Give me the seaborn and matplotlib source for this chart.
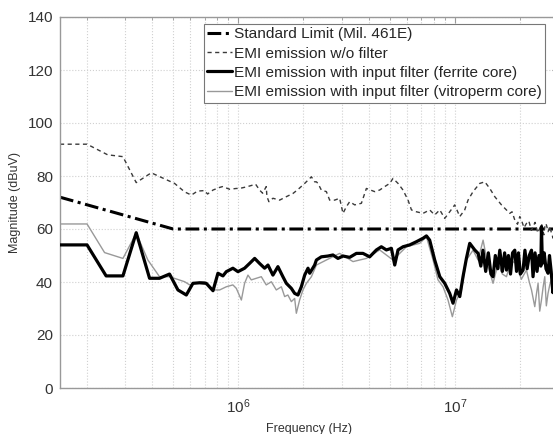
import matplotlib
matplotlib.use("Agg")
import matplotlib.pyplot as plt
import numpy as np
import seaborn as sns
import pandas as pd

# frequencies in MHz, magnitudes in dBuV
limit_f = [0.15, 0.5, 30]
limit_v = [72, 60, 60]

nofilt_f = [0.15, 0.20, 0.249, 0.293, 0.3375, 0.396, 0.5075, 0.565, 0.607, 0.648,
            0.698, 0.721, 0.764, 0.82, 0.846, 0.912, 0.979, 1.014, 1.104, 1.202,
            1.254, 1.295, 1.346, 1.356, 1.385, 1.445, 1.552, 1.667, 1.788, 1.886,
            2.026, 2.176, 2.253, 2.295, 2.334, 2.419, 2.552, 2.643, 2.788, 2.939,
            3.045, 3.157, 3.27, 3.45, 3.704, 3.906, 4.268, 4.498, 4.747, 5.006,
            5.185, 5.47, 5.768, 6.084, 6.31, 6.65, 7.136, 7.66, 8.08, 8.53,
            8.99, 9.48, 10.0, 10.55, 11.12, 11.52, 12.15, 13.05, 13.77, 14.52,
            15.31, 16.44, 17.96, 18.4, 18.94, 19.5, 19.98, 20.3, 20.9, 21.45,
            22.0, 22.6, 23.01, 23.5, 24.2, 24.72, 25.2, 25.8, 26.2, 26.53,
            27.0, 27.5, 27.99, 28.5, 29.2, 30]
nofilt_v = [92, 92, 88, 87.3, 77.5, 81.2, 77.2, 74, 72.8, 74.3,
            74.5, 73.2, 74.7, 75.7, 76, 75, 75.3, 75.3, 76, 76.9,
            74.7, 73.5, 76, 72.2, 70.3, 71.6, 70.9, 72.2, 73.4, 74.9,
            77.2, 79.7, 77.8, 77.8, 77.2, 74.7, 74.1, 70.9, 70.9, 71.6,
            65.9, 68.4, 70.3, 69.1, 69.7, 75.3, 74.1, 74.7, 76, 77.2,
            79.1, 77.2, 74.7, 70.9, 67.2, 66.5, 65.9, 67.2, 65.3, 67.2,
            64, 66.5, 69.1, 64.7, 67.2, 70.9, 74.1, 77.2, 77.8, 75.3,
            72.2, 69.1, 65.9, 66.5, 63.4, 61.8, 64.7, 63.5, 60.5, 62.1,
            63, 59.5, 60.9, 62.5, 58.5, 60.3, 61.8, 57.8, 62, 61.5,
            59, 61, 58.4, 56.5, 59.5, 57]

ferrite_f = [0.15, 0.20, 0.245, 0.293, 0.3375, 0.389, 0.4325, 0.481, 0.526, 0.575,
             0.617, 0.662, 0.711, 0.764, 0.805, 0.849, 0.88, 0.944, 0.996, 1.069,
             1.127, 1.19, 1.254, 1.323, 1.371, 1.445, 1.524, 1.607, 1.667, 1.758,
             1.821, 1.886, 1.955, 2.026, 2.099, 2.137, 2.253, 2.295, 2.419, 2.596,
             2.737, 2.887, 3.045, 3.27, 3.512, 3.767, 4.046, 4.345, 4.58, 4.832,
             5.097, 5.281, 5.47, 5.768, 6.194, 6.65, 7.136, 7.4, 7.66, 8.08,
             8.53, 8.99, 9.48, 9.82, 10.19, 10.55, 10.92, 11.32, 11.73, 12.37,
             12.82, 13.2, 13.5, 13.9, 14.3, 14.7, 15.03, 15.4, 15.8, 16.15,
             16.6, 17.0, 17.34, 17.7, 18.1, 18.5, 18.94, 19.3, 19.7, 20.1,
             20.69, 21.1, 21.6, 22.1, 22.63, 23.0, 23.5, 24.0, 24.5, 25.0,
             25.16, 25.4, 25.9, 26.4, 26.98, 27.4, 27.9, 28.4, 28.9, 29.4, 30]
ferrite_v = [54, 54, 42.3, 42.3, 58.6, 41.4, 41.4, 43, 37, 35.1,
             39.5, 39.7, 39.5, 36.7, 43.3, 42.3, 43.9, 45.2, 43.9, 45.2,
             47, 48.9, 47, 45.2, 46.4, 42.6, 45.8, 42, 39.5, 37.6,
             35.7, 35.1, 38.2, 42.6, 45.2, 43.3, 46.4, 48.3, 49.5, 49.8,
             50.2, 48.9, 49.8, 49.3, 50.8, 50.8, 49.5, 52.1, 53.3, 52.1,
             52.7, 46.4, 52.1, 53.3, 54, 55.2, 56.5, 57.4, 55.8, 48.3,
             42, 39.5, 35.7, 32, 37, 34.5, 42, 48.9, 54.6, 52.1,
             50.8, 46, 52, 44, 51, 43, 42, 50, 45, 52,
             44, 51, 44.5, 50, 43, 51, 52, 44, 51, 43,
             44.5, 52, 45, 50, 52, 42, 51, 44, 50, 46,
             60.9, 47, 51, 45, 43.3, 50, 44, 36, 45, 38, 40]

vitro_f = [0.15, 0.20, 0.241, 0.293, 0.3375, 0.382, 0.4325, 0.481, 0.565, 0.596,
           0.675, 0.698, 0.764, 0.82, 0.88, 0.944, 0.979, 1.033, 1.069, 1.108,
           1.148, 1.211, 1.277, 1.346, 1.421, 1.498, 1.581, 1.637, 1.694, 1.758,
           1.821, 1.854, 1.92, 1.989, 2.063, 2.176, 2.295, 2.552, 2.939, 3.388,
           3.906, 4.498, 5.185, 5.98, 6.89, 7.4, 7.94, 8.37, 8.83, 9.31,
           9.75, 10.19, 10.74, 11.32, 12.15, 12.82, 13.52, 14.26, 15.03, 15.86,
           16.6, 17.34, 18.2, 19.29, 20.3, 21.45, 22.1, 22.63, 23.43, 23.9,
           24.27, 24.7, 25.16, 25.6, 26.06, 26.5, 26.98, 27.5, 27.99, 28.8, 30]
vitro_v = [61.9, 61.9, 51.1, 48.9, 58.4, 48.3, 42, 42, 40.1, 38.9,
           40.1, 40.1, 37, 37, 38.2, 38.9, 37.6, 33.2, 39.5, 42.6,
           40.8, 41.4, 42, 38.9, 40.1, 37, 38.2, 34.5, 35.1, 32.6,
           33.8, 28.2, 33.2, 37, 39.5, 42, 46.4, 48.3, 50.8, 47.7,
           48.9, 52.1, 48.3, 53.3, 54.6, 57.1, 48.3, 40.8, 38.2, 33.2,
           26.9, 33.2, 37, 48.3, 52, 48.3, 55.8, 45.8, 39.5, 47,
           43, 42, 48, 47, 41, 44.5, 40, 37, 30.7, 36,
           39.5, 29, 33.2, 38, 42, 31, 35.7, 39, 40.8, 34, 38]

fig = plt.figure(figsize=(5.53, 4.34), dpi=100)
sns.set_style("white")
plt.rcParams['font.family'] = ['Liberation Sans', 'DejaVu Sans']
ax = fig.add_axes([60 / 553, 46 / 434, 498 / 553, 371 / 434])

def df(f, v):
    return pd.DataFrame({"f": np.array(f) * 1e6, "v": v})

sns.lineplot(data=df(limit_f, limit_v), x="f", y="v", ax=ax, color="black", lw=2.2,
             estimator=None, label="Standard Limit (Mil. 461E)")
sns.lineplot(data=df(nofilt_f, nofilt_v), x="f", y="v", ax=ax, color="#3a3a3a", lw=1.0,
             estimator=None, label="EMI emission w/o filter")
sns.lineplot(data=df(ferrite_f, ferrite_v), x="f", y="v", ax=ax, color="black", lw=2.3,
             estimator=None, label="EMI emission with input filter (ferrite core)")
sns.lineplot(data=df(vitro_f, vitro_v), x="f", y="v", ax=ax, color="#999999", lw=1.0,
             estimator=None, label="EMI emission with input filter (vitroperm core)")
lines = ax.get_lines()
lines[0].set_linestyle((0, (4.5, 1.5, 1, 1.5)))
lines[1].set_linestyle((0, (3, 2.5)))
# keep the ferrite line on top of the vitroperm one
lines[2].set_zorder(4)
lines[3].set_zorder(3)

ax.set_xscale("log")
ax.set_xlim(1.5e5, 3e7)
ax.set_ylim(0, 140)
ax.set_yticks(np.arange(0, 141, 20))
ax.grid(which="both", ls=":", color="#d0d0d0", lw=0.8)
ax.tick_params(which="both", direction="in", top=True, right=True, colors="#999999",
               labelcolor="#333333", labelsize=11)
ax.tick_params(which="major", length=4, pad=5)
ax.tick_params(axis="x", which="major", pad=7)
ax.tick_params(which="minor", length=2.5)
for s in ax.spines.values():
    s.set_color("#999999")
    s.set_linewidth(1.0)
ax.set_xlabel("Frequency (Hz)", fontsize=9, color="#333333", labelpad=5)
ax.set_ylabel("Magnitude (dBuV)", fontsize=9, color="#333333", labelpad=5)

leg = ax.legend(loc="upper left", bbox_to_anchor=((204 - 60) / 498, (388 - 24) / 371),
                fontsize=11.1, frameon=True, fancybox=False, framealpha=1,
                borderpad=0.22, labelspacing=0.34, handlelength=1.6, handletextpad=0.1,
                borderaxespad=0)
leg.get_frame().set_edgecolor("#777777")
leg.get_frame().set_linewidth(0.8)

plt.savefig("out.png", dpi=100)
